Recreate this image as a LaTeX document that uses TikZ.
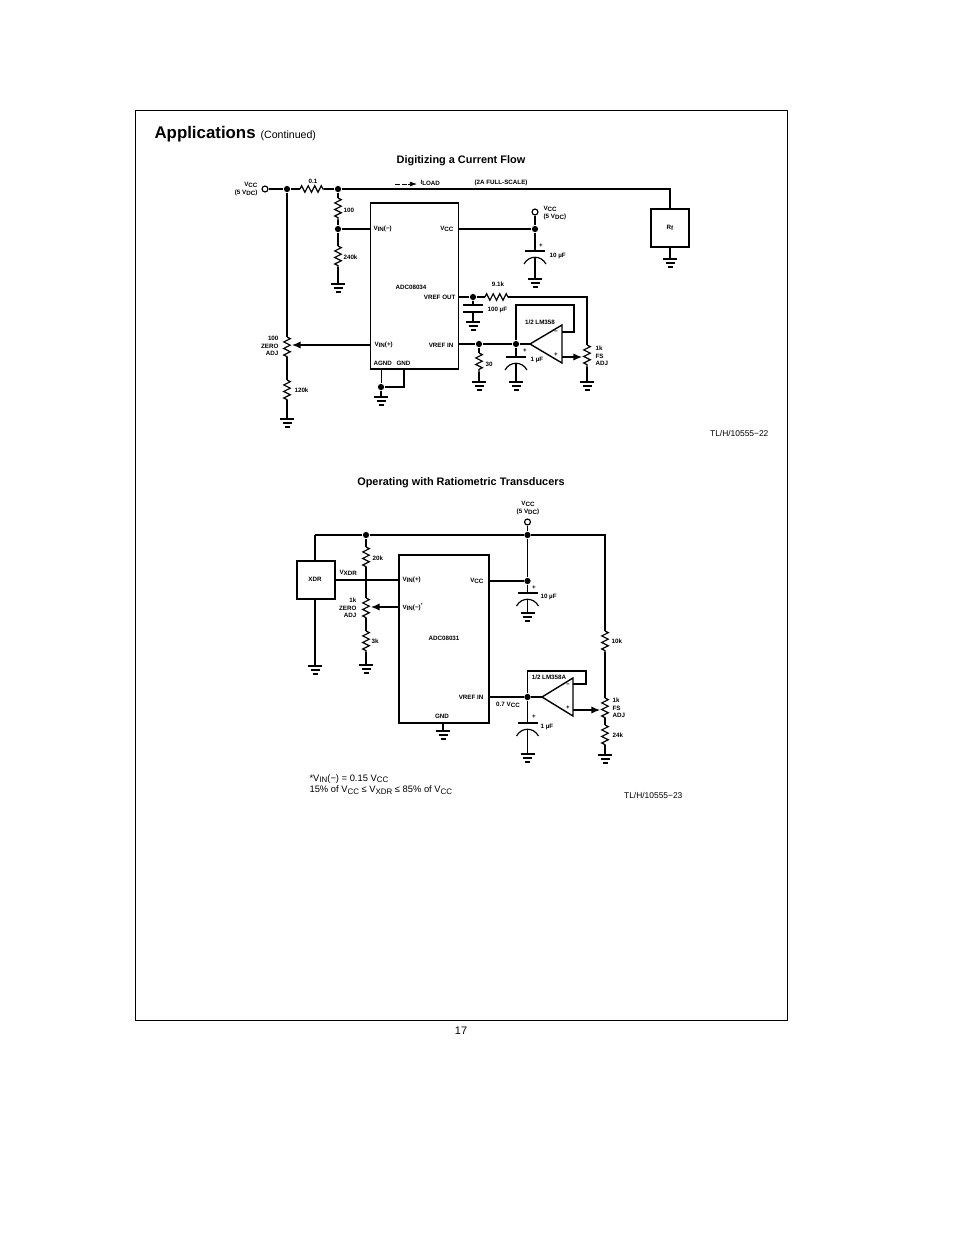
\documentclass[tikz,border=0pt]{standalone}
\usepackage{fontspec}
\setmainfont{Liberation Sans}
\usetikzlibrary{arrows.meta,decorations.pathmorphing,positioning}
\def\px{0.6415pt}
\newcommand{\lsb}[1]{\raisebox{-0.6pt}{#1}}
\newcommand{\nsb}[1]{\raisebox{-1pt}{\fontsize{5.1}{6}\selectfont #1}}

\begin{document}
\begin{tikzpicture}[x=\px,y=-\px,line width=0.75pt,
    lbl/.style={inner sep=0pt,font=\fontsize{4}{4.8}\selectfont\bfseries},
    lblw/.style={lbl,anchor=west,align=left},
    lble/.style={lbl,anchor=east,align=right},
    dot/.style={circle,fill=black,inner sep=0pt,minimum size=4pt},
    term/.style={circle,draw,fill=white,inner sep=0pt,minimum size=3.8pt},
    chip/.style={draw,line width=0.9pt,inner sep=0pt},
    res/.style={decorate,decoration={zigzag,segment length=4.2pt,amplitude=2.1pt}},
    wiper/.style={-{Latex[length=5.5pt,width=4.6pt]}}]
  \tikzstyle{note}=[inner sep=0pt,anchor=west,font=\fontsize{6}{7}\selectfont]
  \tikzstyle{code}=[inner sep=0pt,anchor=east,font=\fontsize{5.4}{6}\selectfont]
  \tikzstyle{head}=[inner sep=0pt,font=\fontsize{7}{8}\selectfont\bfseries]
  \useasboundingbox (0,0) rectangle (954,1235);

  % Page
  \node[draw,line width=0.6pt,inner sep=0pt,minimum width=652*\px,minimum height=910*\px] (page) at (461.5,565.5) {};
  \node[inner sep=0pt,anchor=base west,font=\fontsize{10.8}{12}\selectfont\bfseries] (apps) at (154,138) {Applications};
  \node[inner sep=0pt,anchor=base west,font=\fontsize{6.8}{8}\selectfont] (cont) at (260,138) {(Continued)};
  \node[inner sep=0pt,font=\fontsize{7}{8}\selectfont] (pageno) at (461,1031) {17};

  % Digitizing a Current Flow
  \node[head] (titleA) at (461,161) {Digitizing a Current Flow};
  \node[chip,minimum width=88*\px,minimum height=166*\px] (adcA) at (414.5,286) {};
  \node[chip,minimum width=38*\px,minimum height=38*\px] (rf) at (670,228) {};
  \node[term] (vccA) at (265,189) {};
  \node[term] (vccB) at (535,212) {};
  \node[dot] (j1) at (287,189) {};
  \node[dot] (j2) at (338,189) {};
  \node[dot] (j3) at (338,229) {};
  \node[dot] (j4) at (535,229) {};
  \node[dot] (j5) at (473,297) {};
  \node[dot] (j6) at (479,344) {};
  \node[dot] (j7) at (516,344) {};
  \node[dot] (j8) at (381,387) {};
  \coordinate (r1a) at (300,189);  \coordinate (r1b) at (324,189);
  \coordinate (r2a) at (338,198);  \coordinate (r2b) at (338,220);
  \coordinate (r3a) at (338,246);  \coordinate (r3b) at (338,267);
  \coordinate (r4a) at (287,337);  \coordinate (r4b) at (287,357);
  \coordinate (r5a) at (287,380);  \coordinate (r5b) at (287,400);
  \coordinate (r6a) at (485,297);  \coordinate (r6b) at (508,297);
  \coordinate (r7a) at (479,353);  \coordinate (r7b) at (479,372);
  \coordinate (r8a) at (587,345);  \coordinate (r8b) at (587,367);
  \coordinate (g1) at (338,284);   \coordinate (g2) at (287,419);
  \coordinate (g3) at (381,397);   \coordinate (g4) at (535,279);
  \coordinate (g5) at (473,322);   \coordinate (g6) at (479,382);
  \coordinate (g7) at (516,382);   \coordinate (g8) at (587,382);
  \coordinate (g9) at (670,259);
  \coordinate (c1) at (535,251);   \coordinate (c2) at (516,357);
  \coordinate (c3) at (473,305);   \coordinate (c3b) at (473,312);
  \coordinate (oaAin) at (530,344);  \coordinate (oaAt) at (562,325);
  \coordinate (oaAb) at (562,363);   \coordinate (oaAm) at (562,332);
  \coordinate (oaAp) at (562,357);   \coordinate (fbA1) at (574,332);
  \coordinate (fbA2) at (574,305);   \coordinate (fbA3) at (516,305);
  \coordinate (wipA) at (582,357);   \coordinate (wipB) at (292,345);
  \coordinate (vinA) at (370,345);
  \coordinate (loadA) at (395,184);  \coordinate (loadM) at (408,184);
  \coordinate (loadB) at (417,184);
  \coordinate (pinAg) at (381,369);  \coordinate (pinGn) at (404,369);
  \coordinate (pinGb) at (404,387);
  \coordinate (vrA) at (587,297);    \coordinate (topA) at (670,189);

  \draw (vccA) -- (j1) -- (r1a);
  \draw (r1b) -- (j2) -- (topA) -- (rf.north);
  \draw (j2) -- (r2a);
  \draw (r2b) -- (j3) -- (r3a);
  \draw (j3) -- (j3 -| adcA.west);
  \draw (r3b) -- (g1);
  \draw (j1) -- (r4a);
  \draw (r4b) -- (r5a);
  \draw (r5b) -- (g2);
  \draw[line width=0.3pt] (pinAg) -- (j8);
  \draw (pinGn) -- (pinGb) -- (j8) -- (g3);
  \draw (rf.south) -- (g9);
  \draw (vccB) -- (j4) -- (c1);
  \draw (j4) -- (j4 -| adcA.east);
  \draw (j5 -| adcA.east) -- (j5) -- (r6a);
  \draw (r6b) -- (vrA) -- (r8a);
  \draw (j5) -- (c3);
  \draw (c3b) -- (g5);
  \draw (j6 -| adcA.east) -- (j6) -- (j7) -- (oaAin);
  \draw (j6) -- (r7a);
  \draw (r7b) -- (g6);
  \draw (j7) -- (c2);
  \draw (r8b) -- (g8);
  \draw (oaAm) -- (fbA1) -- (fbA2) -- (fbA3) -- (j7);
  \draw[line width=0.9pt] (oaAin) -- (oaAt) -- (oaAb) -- cycle;
  \draw[wiper] (oaAp) -- (wipA);
  \draw[wiper] (vinA) -- (wipB);
  \draw[line width=0.35pt,dash pattern=on 3pt off 1.5pt] (loadA) -- (loadM);
  \draw[line width=0.35pt,-{Latex[length=4.5pt,width=3pt]}] (loadM) -- (loadB);

  % Operating with Ratiometric Transducers
  \node[head] (titleB) at (461,483) {Operating with Ratiometric Transducers};
  \node[chip,minimum width=90*\px,minimum height=168*\px] (adcB) at (444,639) {};
  \node[chip,minimum width=38*\px,minimum height=38*\px] (xdr) at (316,580) {};
  \node[term] (vccC) at (527.5,522) {};
  \node[dot] (k1) at (366,535) {};
  \node[dot] (k2) at (527.5,535) {};
  \node[dot] (k3) at (527.5,581) {};
  \node[dot] (k4) at (527.5,697) {};
  \coordinate (s1a) at (366,547);  \coordinate (s1b) at (366,567);
  \coordinate (s2a) at (366,598);  \coordinate (s2b) at (366,618);
  \coordinate (s3a) at (366,631);  \coordinate (s3b) at (366,652);
  \coordinate (s4a) at (605,631);  \coordinate (s4b) at (605,652);
  \coordinate (s5a) at (605,698);  \coordinate (s5b) at (605,718);
  \coordinate (s6a) at (605,725);  \coordinate (s6b) at (605,745);
  \coordinate (h1) at (315,666);   \coordinate (h2) at (366,665);
  \coordinate (h3) at (443,731);   \coordinate (h4) at (527.5,613);
  \coordinate (h5) at (527.5,754); \coordinate (h6) at (605,755);
  \coordinate (d1) at (527.5,593); \coordinate (d2) at (527.5,723);
  \coordinate (oaBin) at (542,697);  \coordinate (oaBt) at (573,678);
  \coordinate (oaBb) at (573,716);   \coordinate (oaBm) at (573,684);
  \coordinate (oaBp) at (573,710);   \coordinate (fbB1) at (586,684);
  \coordinate (fbB2) at (586,671);   \coordinate (fbB3) at (527.5,671);
  \coordinate (wipC) at (600,710);   \coordinate (wipD) at (371,607);
  \coordinate (vinC) at (399,607);   \coordinate (pinGc) at (443,723);
  \coordinate (topB) at (315,535);   \coordinate (topC) at (605,535);
  \coordinate (vinB) at (366,580);

  \draw (topB) -- (k1) -- (k2) -- (topC) -- (s4a);
  \draw (topB) -- (topB |- xdr.north);
  \draw (topB |- xdr.south) -- (h1);
  \draw (k1) -- (s1a);
  \draw (s1b) -- (s2a);
  \draw (s2b) -- (s3a);
  \draw (s3b) -- (h2);
  \draw (vinB -| xdr.east) -- (vinB -| adcB.west);
  \draw (vccC) -- (k2) -- (k3) -- (d1);
  \draw (k3) -- (k3 -| adcB.east);
  \draw (k4 -| adcB.east) -- (k4) -- (oaBin);
  \draw (k4) -- (d2);
  \draw (oaBm) -- (fbB1) -- (fbB2) -- (fbB3) -- (k4);
  \draw[line width=0.9pt] (oaBin) -- (oaBt) -- (oaBb) -- cycle;
  \draw (s4b) -- (s5a);
  \draw (s5b) -- (s6a);
  \draw (s6b) -- (h6);
  \draw (pinGc) -- (h3);
  \draw[wiper] (oaBp) -- (wipC);
  \draw[wiper] (vinC) -- (wipD);

  % Resistors, capacitors and grounds
  \foreach \a/\b in {r1a/r1b,r2a/r2b,r3a/r3b,r4a/r4b,r5a/r5b,r6a/r6b,r7a/r7b,r8a/r8b,
                     s1a/s1b,s2a/s2b,s3a/s3b,s4a/s4b,s5a/s5b,s6a/s6b}
    \draw[res] (\a) -- (\b);
  \foreach \g in {g1,g2,g3,g4,g5,g6,g7,g8,g9,h1,h2,h3,h4,h5,h6} {
    \draw ([xshift=-7*\px]\g) -- ([xshift=7*\px]\g);
    \draw ([shift={(-4.5,4)}]\g) -- ([shift={(4.5,4)}]\g);
    \draw ([shift={(-2.5,8)}]\g) -- ([shift={(2.5,8)}]\g);
  }
  \foreach \c/\e in {c1/g4,c2/g7,d1/h4,d2/h5} {
    \draw ([xshift=-10*\px]\c) -- ([xshift=10*\px]\c);
    \draw ([shift={(-11,13)}]\c) .. controls ([shift={(-6,4)}]\c) and ([shift={(6,4)}]\c) .. ([shift={(11,13)}]\c);
    \draw ([yshift=-6.5*\px]\c) -- (\e);
  }
  \draw ([xshift=-10*\px]c3) -- ([xshift=10*\px]c3);
  \draw ([xshift=-10*\px]c3b) -- ([xshift=10*\px]c3b);

  % Labels, top circuit
  \node[lble] (tVccA) at (258,189) {V\lsb{CC}\\(5 V\lsb{DC})};
  \node[lbl] (t01) at (313,181) {0.1};
  \node[lblw] (t100) at (343,210) {100};
  \node[lblw] (t240k) at (343,257) {240k};
  \node[lblw] (tVinmA) at (373,229) {V\lsb{IN}(−)};
  \node[lble] (tVccIcA) at (454,229) {V\lsb{CC}};
  \node[lbl] (tAdcA) at (411,287) {ADC08034};
  \node[lble] (tVrefOut) at (456,297) {VREF OUT};
  \node[lblw] (tVinpA) at (374,345) {V\lsb{IN}(+)};
  \node[lble] (tVrefInA) at (454,345) {VREF IN};
  \node[lblw] (tAgnd) at (373,363) {AGND};
  \node[lblw] (tGnd) at (396,363) {GND};
  \node[lble] (tZeroA) at (279,346) {100\\ZERO\\ADJ};
  \node[lblw] (t120k) at (294,390) {120k};
  \node[lblw] (tLoad) at (420,183) {I\lsb{LOAD}};
  \node[lbl] (tFull) at (501,183) {(2A FULL-SCALE)};
  \node[lblw] (tVccB) at (543,213) {V\lsb{CC}\\(5 V\lsb{DC})};
  \node[lbl] (tPlusA) at (541,246) {+};
  \node[lblw] (t10u) at (549,256) {10 µF};
  \node[lbl] (tRf) at (670,228) {R\lsb{f}};
  \node[lbl] (t91k) at (498,284) {9.1k};
  \node[lblw] (t100u) at (487,310) {100 µF};
  \node[lbl] (tLmA) at (540,322) {1/2 LM358};
  \node[lbl] (tMinusA) at (556,332) {−};
  \node[lbl] (tNonA) at (556,355) {+};
  \node[lbl] (tPlusB) at (525,351) {+};
  \node[lblw] (t1uA) at (530,360) {1 µF};
  \node[lblw] (t30) at (485,364) {30};
  \node[lblw] (tFsA) at (595,356) {1k\\FS\\ADJ};
  \node[code] (tCodeA) at (769,433) {TL/H/10555−22};

  % Labels, bottom circuit
  \node[lbl,align=center] (tVccC) at (528,508) {V\lsb{CC}\\(5 V\lsb{DC})};
  \node[lbl] (tXdr) at (315,579) {XDR};
  \node[lblw] (tVxdr) at (339,573) {V\lsb{XDR}};
  \node[lblw] (t20k) at (372,558) {20k};
  \node[lble] (tZeroB) at (357,608) {1k\\ZERO\\ADJ};
  \node[lblw] (t3k) at (371,641) {3k};
  \node[lblw] (tVinpB) at (402,580) {V\lsb{IN}(+)};
  \node[lblw] (tVinmB) at (402,607) {V\lsb{IN}(−)\textsuperscript{*}};
  \node[lble] (tVccIcB) at (484,581) {V\lsb{CC}};
  \node[lbl] (tAdcB) at (444,638) {ADC08031};
  \node[lble] (tVrefInB) at (484,697) {VREF IN};
  \node[lbl] (tGndB) at (442,716) {GND};
  \node[lbl] (tPlusC) at (534,588) {+};
  \node[lblw] (t10uB) at (540,597) {10 µF};
  \node[lbl] (tLmB) at (549,677) {1/2 LM358A};
  \node[lbl] (tMinusB) at (568,685) {−};
  \node[lbl] (tNonB) at (568,708) {+};
  \node[lbl] (t07) at (508,705) {0.7 V\lsb{CC}};
  \node[lbl] (tPlusD) at (534,717) {+};
  \node[lblw] (t1uB) at (540,727) {1 µF};
  \node[lblw] (t10k) at (611,641) {10k};
  \node[lblw] (tFsB) at (612,708) {1k\\FS\\ADJ};
  \node[lblw] (t24k) at (612,735) {24k};
  \node[note] (tNoteA) at (309,779) {*V\nsb{IN}(−) = 0.15 V\nsb{CC}};
  \node[note] (tNoteB) at (309,790) {15\% of V\nsb{CC} ≤ V\nsb{XDR} ≤ 85\% of V\nsb{CC}};
  \node[code] (tCodeB) at (683,795) {TL/H/10555−23};
\end{tikzpicture}
\end{document}
